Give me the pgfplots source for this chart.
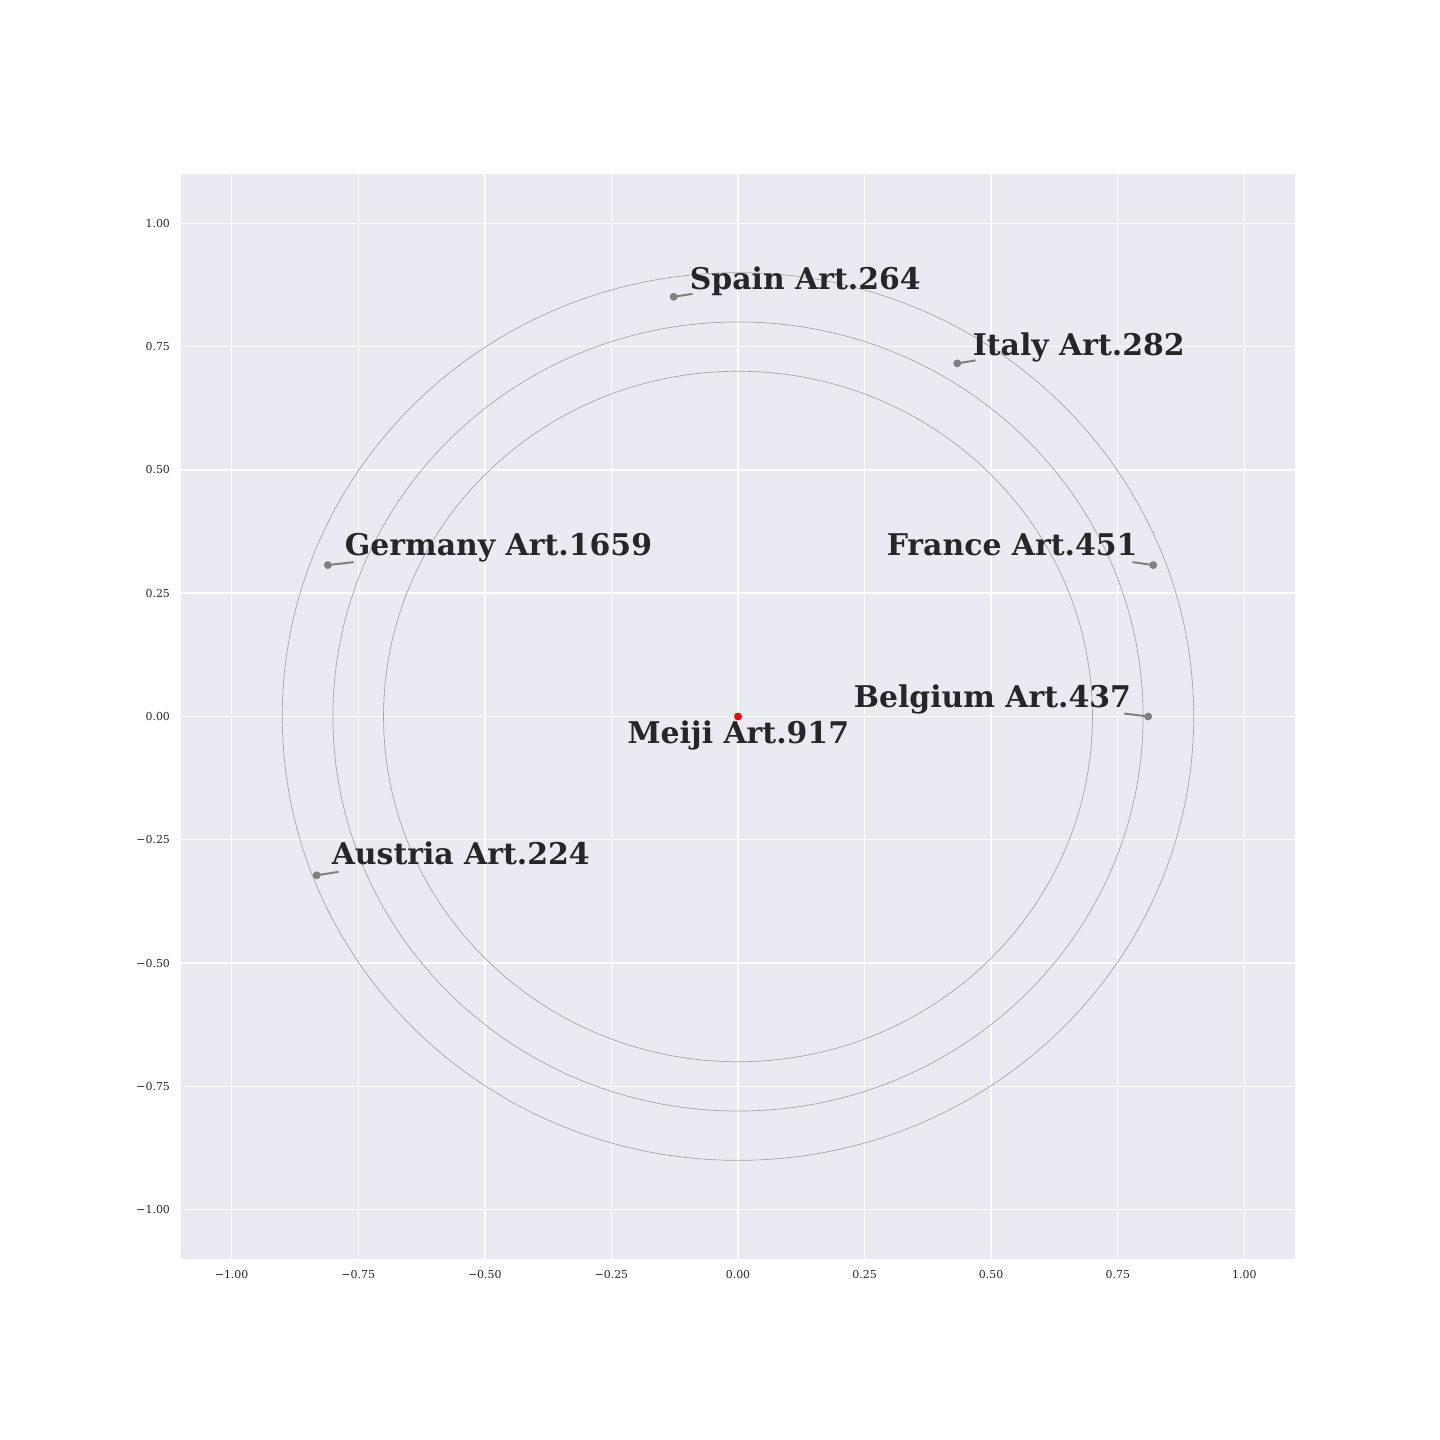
\documentclass[border=0pt]{standalone}
\usepackage{fontspec}
\setmainfont{DejaVu Serif}
\usepackage{pgfplots}
\pgfplotsset{compat=1.18}
\definecolor{bgc}{HTML}{EAEAF2}
\definecolor{tc}{HTML}{262626}
\definecolor{ptc}{HTML}{808080}
\begin{document}
\begin{tikzpicture}
\path[use as bounding box] (-90.5bp,-90.5bp) rectangle (629.5bp,629.5bp);
\begin{axis}[
  at={(0,0)}, anchor=south west,
  width=557bp, height=542.5bp, scale only axis,
  xmin=-1.1, xmax=1.1, ymin=-1.1, ymax=1.1,
  axis background/.style={fill=bgc},
  axis line style={draw=none},
  tick style={draw=none},
  grid=major,
  major grid style={white, line width=0.7bp},
  xtick={-1,-0.75,-0.5,-0.25,0,0.25,0.5,0.75,1},
  ytick={-1,-0.75,-0.5,-0.25,0,0.25,0.5,0.75,1},
  xticklabels={−1.00,−0.75,−0.50,−0.25,0.00,0.25,0.50,0.75,1.00},
  yticklabels={−1.00,−0.75,−0.50,−0.25,0.00,0.25,0.50,0.75,1.00},
  ticklabel style={font=\fontsize{5.5}{6.5}\selectfont, text=tc},
  xticklabel style={yshift=-2bp},
  yticklabel style={xshift=-2bp},
  clip=false,
]
\draw[gray!70, line width=0.35bp] (axis cs:0,0) ellipse [x radius=0.7, y radius=0.7];
\draw[gray!70, line width=0.35bp] (axis cs:0,0) ellipse [x radius=0.8, y radius=0.8];
\draw[gray!70, line width=0.35bp] (axis cs:0,0) ellipse [x radius=0.9, y radius=0.9];
% leader lines
\addplot[ptc, line width=1bp, forget plot] coordinates {(-0.127,0.851) (-0.0898,0.857)};
\addplot[ptc, line width=1bp, forget plot] coordinates {(0.433,0.716) (0.469,0.722)};
\addplot[ptc, line width=1bp, forget plot] coordinates {(-0.810,0.307) (-0.759,0.313)};
\addplot[ptc, line width=1bp, forget plot] coordinates {(0.820,0.307) (0.779,0.313)};
\addplot[ptc, line width=1bp, forget plot] coordinates {(0.810,0.0) (0.763,0.006)};
\addplot[ptc, line width=1bp, forget plot] coordinates {(-0.832,-0.322) (-0.789,-0.315)};
% points
\addplot[only marks, mark=*, mark size=1.75bp, ptc, mark options={draw=ptc, fill=ptc}] coordinates {
(-0.127,0.851) (0.433,0.716) (-0.810,0.307) (0.820,0.307) (0.810,0.0) (-0.832,-0.322)};
\addplot[only marks, mark=*, mark size=1.75bp, red, mark options={draw=red, fill=red}] coordinates {(0,0)};
% labels
\tikzset{lab/.style={anchor=base west, inner sep=0pt, text=tc, font=\bfseries\fontsize{15}{16}\selectfont}}
\node[lab] at (axis cs:-0.0958,0.866) {Spain Art.264};
\node[lab] at (axis cs:0.463,0.732) {Italy Art.282};
\node[lab] at (axis cs:-0.777,0.326) {Germany Art.1659};
\node[lab] at (axis cs:0.293,0.326) {France Art.451};
\node[lab] at (axis cs:0.228,0.018) {Belgium Art.437};
\node[lab] at (axis cs:-0.219,-0.055) {Meiji Art.917};
\node[lab] at (axis cs:-0.803,-0.301) {Austria Art.224};
\end{axis}
\end{tikzpicture}
\end{document}
